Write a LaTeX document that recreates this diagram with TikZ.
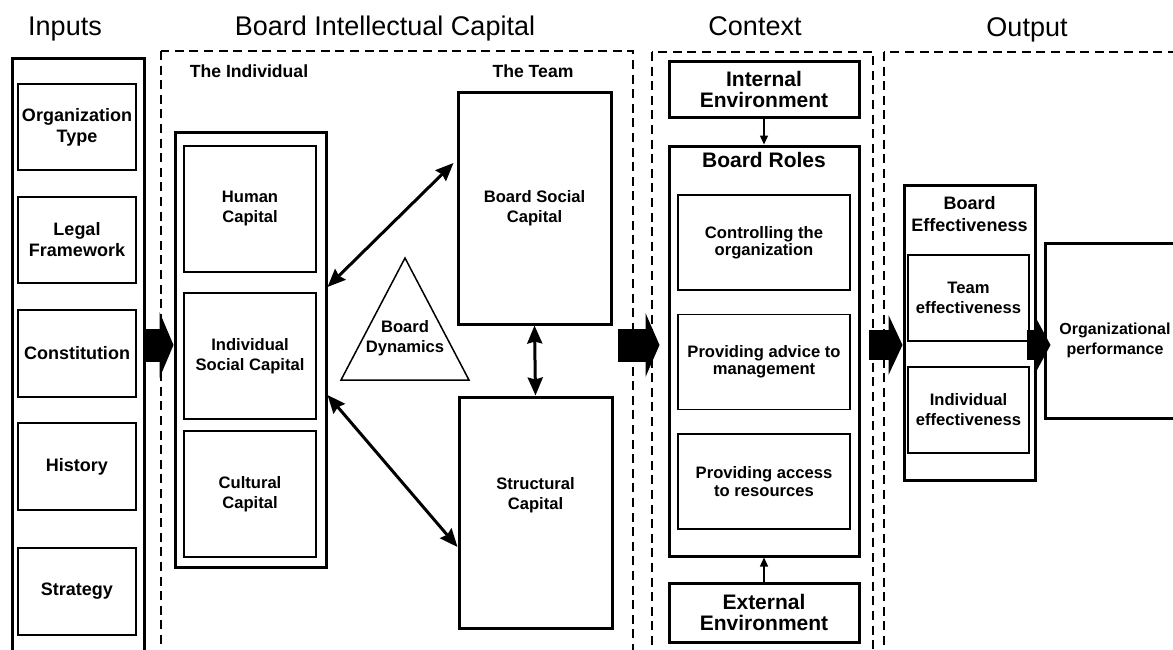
\documentclass[tikz,border=0pt]{standalone}
\usepackage{fontspec}
\setmainfont{Liberation Sans}
\usetikzlibrary{arrows.meta,calc,positioning}
\tikzset{
  sizebox/.style 2 args={rectangle,minimum width=#1*0.5pt,minimum height=#2*0.5pt,inner sep=0pt},
  thickbox/.style={draw,line width=1.5pt,align=center,font=\fontsize{8.3}{10}\selectfont\bfseries},
  thinbox/.style={draw,line width=0.75pt,align=center,font=\fontsize{8.3}{10}\selectfont\bfseries},
  inbox/.style={thinbox,font=\fontsize{9}{10.5}\selectfont\bfseries},
  rolebox/.style={thinbox,line width=0.6pt,font=\fontsize{8.3}{8.6}\selectfont\bfseries},
  envbox/.style={thickbox,font=\fontsize{10.5}{10.5}\selectfont\bfseries},
  coltitle/.style={anchor=base,font=\fontsize{13.5}{16}\selectfont},
  subtitle/.style={anchor=base,font=\fontsize{8.8}{10}\selectfont\bfseries},
  zone/.style={draw,line width=1.3pt,dash pattern=on 4.5pt off 2.8pt},
  link/.style={{Stealth[length=9pt,width=7.5pt,inset=1pt]}-{Stealth[length=9pt,width=7.5pt,inset=1pt]},line width=1.5pt},
  feed/.style={-{Triangle[length=4.5pt,width=4pt]},line width=0.7pt},
  bigarrow/.style 2 args={line width=#1,-{Triangle[length=7pt,width=#2,line width=0pt]}},
}
\begin{document}
\begin{tikzpicture}[x=0.5pt,y=-0.5pt]
  \useasboundingbox (0,0) rectangle (1173,649);
  \clip (0,0) rectangle (1173,649);
  \node[coltitle] (tin) at (65,35) {Inputs};
  \node[coltitle] (tbic) at (385,35) {Board Intellectual Capital};
  \node[coltitle] (tctx) at (755,35) {Context};
  \node[coltitle] (tout) at (1027,36) {Output};
  \draw[zone] (161,51) rectangle (633,700);
  \draw[zone] (652,52) rectangle (873,700);
  \draw[zone] (884,52) rectangle (1200,700);
  % inputs
  \node[thickbox,sizebox={132}{620}] (inputs) at (78,368) {};
  \node[inbox,sizebox={118}{86}] (orgtype) at (77,127) {Organization\\Type};
  \node[inbox,sizebox={118}{86}] (legal) at (77,240) {Legal\\Framework};
  \node[inbox,sizebox={118}{87}] (constitution) at (77,353.5) {Constitution};
  \node[inbox,sizebox={118}{87}] (history) at (77,466.5) {History};
  \node[inbox,sizebox={118}{87}] (strategy) at (77,591.5) {Strategy};
  % board intellectual capital
  \node[subtitle] (tind) at (249,77) {The Individual};
  \node[subtitle] (tteam) at (533,77) {The Team};
  \node[thickbox,sizebox={151}{435}] (indiv) at (250.5,349.5) {};
  \node[thinbox,sizebox={132}{126}] (human) at (250,209) {Human\\Capital};
  \node[thinbox,sizebox={132}{126}] (indsoc) at (250,356) {Individual\\Social Capital};
  \node[thinbox,sizebox={132}{126}] (cultural) at (250,494) {Cultural\\Capital};
  \node[thickbox,sizebox={153}{232}] (bsc) at (534.5,208) {Board Social\\Capital};
  \node[thickbox,sizebox={153}{231}] (structural) at (535.5,512.5) {Structural\\Capital\\[9pt]};
  \draw[line width=0.75pt] (405,258) -- (469,380) -- (341,380) -- cycle;
  \node[font=\fontsize{8.3}{10}\selectfont\bfseries,align=center] (dyn) at (405,338) {Board\\Dynamics};
  \draw[link] ($(indiv.east)+(0,-62.5)$) -- ($(bsc.west)+(-3,-45)$);
  \draw[link] ($(indiv.east)+(0,45.5)$) -- ($(structural.west)+(0,34.5)$);
  \draw[link] (bsc.south) -- (structural.north);
  % context
  \node[envbox,sizebox={190}{56}] (internal) at (764,89) {Internal\\Environment};
  \node[thickbox,sizebox={190}{410}] (roles) at (764,351) {};
  \node[font=\fontsize{10.5}{12}\selectfont\bfseries] (troles) at (764,160) {Board Roles};
  \node[rolebox,sizebox={172}{95}] (control) at (764,242.5) {Controlling the\\organization};
  \node[rolebox,sizebox={172}{95}] (advice) at (764,362) {Providing advice to\\management};
  \node[rolebox,sizebox={172}{95}] (access) at (764,481.5) {Providing access\\to resources};
  \node[envbox,sizebox={190}{59}] (external) at (764,612.5) {External\\Environment};
  \draw[feed] (internal) -- (roles);
  \draw[feed] (external) -- (roles);
  % output
  \node[thickbox,sizebox={131}{295}] (beff) at (969.5,332.5) {};
  \node[font=\fontsize{9}{11}\selectfont\bfseries,align=center] (tbeff) at (969.5,214) {Board\\Effectiveness};
  \node[thinbox,sizebox={121}{86}] (teameff) at (968.5,298) {Team\\effectiveness};
  \node[thinbox,sizebox={121}{86}] (indeff) at (968.5,410) {Individual\\effectiveness};
  \node[thickbox,sizebox={140}{175}] (orgperf) at (1115,330.5) {};
  \node[font=\fontsize{8}{10}\selectfont\bfseries,align=center] (torg) at (1115,340) {Organizational\\performance};
  % flow between stages
  \coordinate (flow) at (0,345);
  \draw[bigarrow={16.5pt}{33pt}] ($(inputs.east |- flow)+(-2,0)$) -- (indiv.west |- flow);
  \draw[bigarrow={16.5pt}{32pt}] ($(structural.east |- flow)+(4,0)$) -- ($(roles.west |- flow)+(-8,0)$);
  \draw[bigarrow={15pt}{30pt}] ($(roles.east |- flow)+(8,0)$) -- (beff.west |- flow);
  \draw[bigarrow={15pt}{26pt}] ($(beff.east |- flow)+(-10,0)$) -- ($(orgperf.west |- flow)+(7,0)$);
\end{tikzpicture}
\end{document}
